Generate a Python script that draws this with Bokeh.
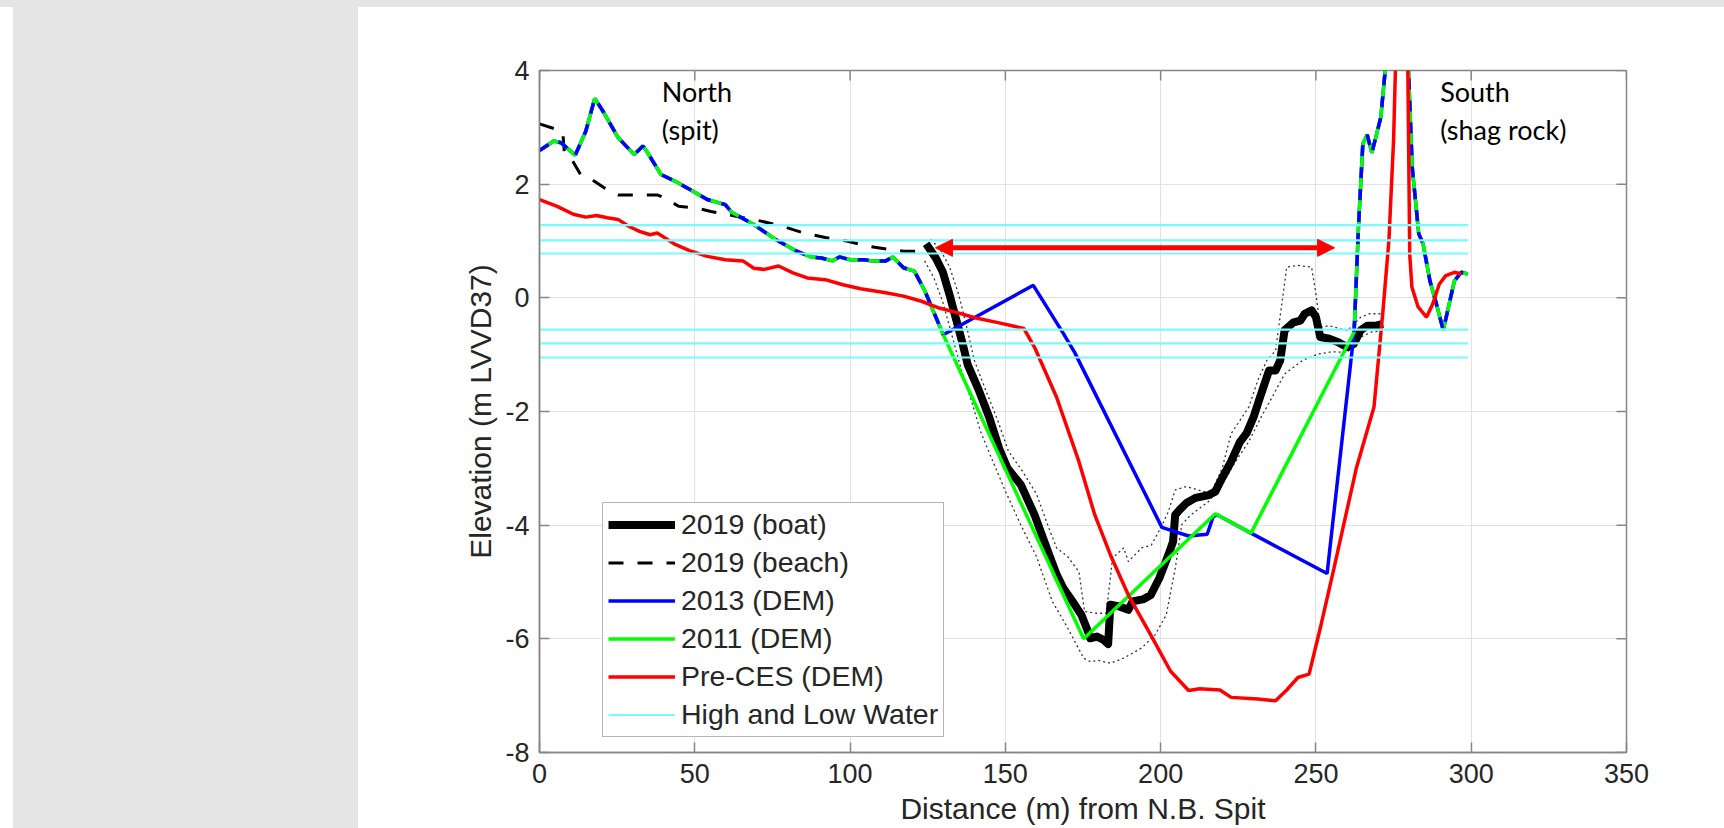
import math
from bokeh.plotting import figure
from bokeh.models import (Range1d, FixedTicker, Legend, LegendItem,
                          Arrow, NormalHead, Div, Spacer)
from bokeh.layouts import row, column
from bokeh.embed import file_html
from bokeh.resources import INLINE
from bokeh.core.properties import value

# ---------------- data ----------------
x_ticks = [0, 50, 100, 150, 200, 250, 300, 350]
y_ticks = [-8, -6, -4, -2, 0, 2, 4]
x_min, x_max = 0, 350
y_min, y_max = -8, 4

# high and low water levels (m LVVD37)
water_levels = [1.28, 1.01, 0.78, -0.56, -0.80, -1.05]
water_x_start = 0
water_x_end = 299

# profile shared by the 2013 and 2011 DEMs (north end)
dem_north_x = [0, 4.6, 6.9, 11.5, 14.9, 17.8, 20.7, 25.3, 30.5, 33.3, 34.5, 39.1,
               43.7, 48.3, 54.0, 59.8, 62.0, 69.0, 75.9, 82.8, 87.4, 90.8, 94.3,
               96.6, 100.0, 104.6, 106.9, 111.5, 113.8, 117.2, 120.7, 124.1, 126.4, 130.0]
dem_north_y = [2.59, 2.76, 2.73, 2.51, 2.93, 3.51, 3.26, 2.82, 2.52, 2.67, 2.58, 2.17,
               2.05, 1.91, 1.73, 1.64, 1.50, 1.29, 1.03, 0.82, 0.72, 0.70, 0.65,
               0.72, 0.67, 0.67, 0.65, 0.65, 0.72, 0.53, 0.47, 0.12, -0.18, -0.65]

# profile shared by the 2013 and 2011 DEMs (south end, shag rock)
dem_south_x = [262.3, 263.7, 265.1, 266.5, 268.0, 269.4, 270.9, 272.3, 276.0, 279.8,
               281.0, 283.1, 284.5, 286.7, 288.8, 291.0, 294.6, 296.8, 298.9]
dem_south_y = [-0.60, 1.24, 2.71, 2.87, 2.55, 2.85, 3.18, 4.00, 6.50, 4.00,
               2.30, 1.13, 0.95, 0.30, -0.11, -0.57, 0.30, 0.45, 0.42]

# channel part of the 2013 DEM
dem2013_x = [159.0, 168.7, 172.3, 200.4, 209.0, 215.0, 216.9, 218.3, 229.1, 253.6]
dem2013_y = [0.22, -0.63, -0.96, -4.04, -4.19, -4.16, -3.85, -3.82, -4.14, -4.85]

# channel part of the 2011 DEM
dem2011_x = [175.2, 217.6, 229.1]
dem2011_y = [-6.00, -3.80, -4.14]

# Pre-CES DEM
pre_x = [0, 5.7, 10.9, 14.9, 18.4, 21.8, 25.3, 28.7, 32.2, 35.6, 37.9, 40.2, 43.7,
         48.3, 54.0, 59.8, 65.5, 69.0, 72.4, 77.0, 81.6, 86.2, 92.0, 97.7, 103.4,
         111.5, 117.2, 123.0, 128.7, 134.5, 140.2, 148.0, 156.0, 159.4, 166.5, 173.5,
         178.8, 183.8, 189.6, 196.8, 203.2, 209.0, 212.6, 219.1, 222.7, 231.3, 237.0,
         240.6, 244.2, 247.8, 251.4, 255.8, 263.0, 268.7, 271.6, 273.5, 275.0, 277.5,
         279.6, 280.2, 280.9, 282.9, 285.6, 287.6, 289.7, 291.8, 294.6, 296.8]
pre_y = [1.73, 1.61, 1.47, 1.42, 1.45, 1.41, 1.38, 1.26, 1.17, 1.11, 1.14, 1.06, 0.94,
         0.83, 0.73, 0.67, 0.65, 0.52, 0.50, 0.56, 0.44, 0.35, 0.32, 0.23, 0.16,
         0.09, 0.03, -0.06, -0.18, -0.26, -0.35, -0.44, -0.54, -0.87, -1.75, -2.85,
         -3.82, -4.52, -5.23, -5.93, -6.57, -6.91, -6.88, -6.90, -7.03, -7.06, -7.09,
         -6.90, -6.68, -6.62, -5.81, -4.76, -3.00, -1.92, -0.22, 1.01, 2.77, 8.00,
         4.00, 0.77, 0.19, -0.16, -0.34, -0.11, 0.24, 0.39, 0.45, 0.42]

# 2019 boat survey
boat_x = [124.5, 127.6, 129.9, 132.2, 134.5, 136.2, 137.9, 141.4, 144.8, 148.0, 150.7,
          155.0, 159.4, 163.7, 166.5, 168.7, 171.6, 174.5, 176.6, 177.3, 179.5, 181.7,
          183.1, 183.8, 186.7, 189.6, 191.0, 194.6, 196.8, 199.6, 202.5, 204.0, 204.7,
          206.1, 208.3, 211.2, 215.5, 217.6, 219.8, 222.7, 225.5, 227.7, 229.9, 232.0,
          234.9, 237.0, 238.5, 239.9, 242.8, 245.0, 246.4, 248.6, 250.0, 251.4, 254.3,
          257.2, 260.1, 262.2, 264.4, 266.5, 269.4, 271.6]
boat_y = [0.95, 0.70, 0.45, 0.02, -0.45, -0.80, -1.18, -1.62, -2.10, -2.65, -3.00,
          -3.29, -3.82, -4.46, -4.87, -5.11, -5.34, -5.58, -5.87, -5.99, -5.96, -6.02,
          -6.09, -5.40, -5.43, -5.49, -5.34, -5.30, -5.23, -4.93, -4.52, -4.29, -3.82,
          -3.73, -3.61, -3.52, -3.47, -3.41, -3.17, -2.88, -2.54, -2.38, -2.10, -1.75,
          -1.28, -1.28, -1.10, -0.57, -0.43, -0.40, -0.28, -0.22, -0.34, -0.69, -0.72,
          -0.78, -0.87, -0.81, -0.57, -0.49, -0.49, -0.46]

# 2019 boat survey, shallow and deep bounds (dotted)
boat_hi_x = [126.0, 129.0, 132.0, 135.0, 137.5, 140.0, 143.5, 147.5, 151.0, 155.5, 160.0,
             164.0, 166.5, 170.0, 173.7, 175.5, 179.5, 182.5, 184.5, 188.1, 189.6, 193.9,
             197.0, 200.0, 202.5, 204.7, 208.3, 214.0, 216.5, 219.8, 222.7, 228.4, 231.3,
             234.2, 237.0, 240.6, 244.2, 248.6, 250.0, 251.4, 254.3, 260.1, 264.4, 267.3,
             271.6]
boat_hi_y = [1.03, 0.85, 0.55, 0.05, -0.50, -1.10, -1.60, -2.15, -2.70, -3.05, -3.45,
             -4.05, -4.40, -4.55, -4.82, -5.52, -5.55, -5.55, -4.58, -4.40, -4.64, -4.40,
             -4.35, -4.05, -3.76, -3.38, -3.32, -3.41, -3.40, -3.00, -2.39, -1.92, -1.45,
             -1.10, -0.93, 0.54, 0.57, 0.54, 0.07, -0.52, -0.49, -0.58, -0.34, -0.28,
             -0.28]
boat_lo_x = [124.0, 127.0, 130.0, 133.0, 136.0, 139.0, 142.0, 145.0, 150.0, 155.0, 160.0,
             165.1, 170.0, 175.2, 177.3, 180.0, 183.8, 188.1, 193.9, 198.2, 201.8, 204.7,
             206.8, 209.7, 215.5, 219.8, 224.1, 228.4, 232.7, 234.2, 239.9, 245.7, 250.7,
             255.0, 260.1, 264.4, 268.0, 271.6]
boat_lo_y = [0.65, 0.35, -0.10, -0.70, -1.30, -1.80, -2.35, -2.75, -3.40, -4.00, -4.55,
             -5.34, -5.80, -6.34, -6.40, -6.38, -6.43, -6.34, -6.16, -5.93, -5.58, -4.76,
             -3.99, -3.82, -3.58, -3.29, -2.88, -2.53, -2.06, -1.92, -1.34, -1.10, -0.99,
             -0.95, -0.96, -0.69, -0.60, -0.58]

# 2019 beach survey
beach_x = [0, 5.7, 7.5, 8.0, 9.8, 13.2, 16.1, 20.7, 25.3, 31.0, 37.9, 40.2, 44.8, 50.6,
           55.2, 62.1, 71.3, 78.2, 85.1, 92.0, 98.9, 105.7, 112.6, 117.2, 123.0, 125.0]
beach_y = [3.06, 2.96, 2.92, 2.55, 2.49, 2.17, 2.11, 1.94, 1.81, 1.81, 1.81, 1.76, 1.61,
           1.58, 1.52, 1.45, 1.35, 1.26, 1.14, 1.06, 1.00, 0.91, 0.85, 0.82, 0.82, 0.85]

# channel width arrow
arrow_x = [127.5, 256.0]
arrow_y = 0.88

# text annotations
north_lines = ["North", "(spit)"]
south_lines = ["South", "(shag rock)"]
north_x = [39.4, 39.4]
south_x = [290.0, 290.0]
label_y = [3.63, 2.96]

x_label = "Distance (m) from N.B. Spit"
y_label = "Elevation (m LVVD37)"
legend_labels = ["2019 (boat)", "2019 (beach)", "2013 (DEM)", "2011 (DEM)",
                 "Pre-CES (DEM)", "High and Low Water"]

# ---------------- styles ----------------
AXC = "#868686"
TXT = "#262626"
GRID = "#e2e2e2"
CYAN = "#7df9f9"
PAGE_GRAY = "#e5e5e5"
FONT = "Liberation Sans"
TICK_LEN = 10

# page chrome: gray strip on top and gray side panel
top_strip = Div(text="", width=1724, height=7, margin=0,
                styles={"background-color": PAGE_GRAY})
panel = Div(text="", width=345, height=821, margin=0,
            styles={"background-color": PAGE_GRAY})
left_gap = Spacer(width=13, height=821, margin=0)

p = figure(width=1366, height=821, output_backend="svg", toolbar_location=None,
           x_range=Range1d(x_min, x_max), y_range=Range1d(y_min, y_max),
           min_border_left=181, min_border_right=98, min_border_top=63, min_border_bottom=76,
           background_fill_color="white", border_fill_color="white", margin=0)
p.outline_line_color = AXC
p.outline_line_width = 1.5

xt = FixedTicker(ticks=x_ticks)
yt = FixedTicker(ticks=y_ticks)
p.xaxis.ticker = xt
p.yaxis.ticker = yt
p.xgrid.ticker = xt
p.ygrid.ticker = yt
p.grid.grid_line_color = GRID
p.grid.grid_line_width = 1
p.yaxis.major_label_overrides = {t: str(t) for t in y_ticks}

for ax in (p.xaxis[0], p.yaxis[0]):
    ax.major_tick_in = TICK_LEN
    ax.major_tick_out = 0
    ax.minor_tick_in = 0
    ax.minor_tick_out = 0
    ax.axis_line_color = AXC
    ax.axis_line_width = 1.5
    ax.major_tick_line_color = AXC
    ax.major_tick_line_width = 1.5
    ax.major_label_text_font = FONT
    ax.major_label_text_font_size = "27px"
    ax.major_label_text_color = TXT
    ax.axis_label_text_font = FONT
    ax.axis_label_text_font_size = "30px"
    ax.axis_label_text_font_style = "normal"
    ax.axis_label_text_color = TXT

p.xaxis.axis_label = x_label
p.yaxis.axis_label = y_label
p.xaxis.major_label_standoff = 11
p.xaxis.axis_label_standoff = 6
p.yaxis.major_label_standoff = 10
p.yaxis.axis_label_standoff = 5

# inward ticks on the top and right edges of the box
p.ray(x=x_ticks, y=[y_max] * len(x_ticks), length=TICK_LEN, length_units="screen",
      angle=-math.pi / 2, line_color=AXC, line_width=1.5)
p.ray(x=[x_max] * len(y_ticks), y=y_ticks, length=TICK_LEN, length_units="screen",
      angle=math.pi, line_color=AXC, line_width=1.5)

# ---------------- glyphs ----------------
p.line(boat_lo_x, boat_lo_y, line_color="#333333", line_width=1.3, line_dash="2 3")
p.line(boat_hi_x, boat_hi_y, line_color="#333333", line_width=1.3, line_dash="2 3")
r_boat = p.line(boat_x, boat_y, line_color="black", line_width=8, line_join="round")
r_beach = p.line(beach_x, beach_y, line_color="black", line_width=3, line_dash="15 14")
r_2013 = p.line(dem_north_x + dem2013_x + dem_south_x, dem_north_y + dem2013_y + dem_south_y,
                line_color="#0000ff", line_width=3.5)
r_2011 = p.line(dem_north_x + dem2011_x + dem_south_x, dem_north_y + dem2011_y + dem_south_y,
                line_color="#00ff00", line_width=3.5)
# where the two DEMs coincide, the 2013 line shows through as alternating dashes
p.line(dem_north_x, dem_north_y, line_color="#0000ff", line_width=3.5, line_dash="11 11")
p.line(dem_south_x, dem_south_y, line_color="#0000ff", line_width=3.5, line_dash="11 11")
r_pre = p.line(pre_x, pre_y, line_color="#ff0000", line_width=3.5)
r_water = p.segment(x0=[water_x_start] * len(water_levels), y0=water_levels,
                    x1=[water_x_end] * len(water_levels), y1=water_levels,
                    line_color=CYAN, line_width=2.2)

p.add_layout(Arrow(start=NormalHead(size=17, fill_color="#ff0000", line_color="#ff0000"),
                   end=NormalHead(size=17, fill_color="#ff0000", line_color="#ff0000"),
                   x_start=arrow_x[0], y_start=arrow_y, x_end=arrow_x[1], y_end=arrow_y,
                   line_color="#ff0000", line_width=5))

for xs, lines in ((north_x, north_lines), (south_x, south_lines)):
    p.text(x=xs, y=label_y, text=lines, text_font=value("Lato"),
           text_font_size=value("27px"), text_color="black",
           text_align="left", text_baseline="alphabetic")

legend = Legend(items=[LegendItem(label=legend_labels[0], renderers=[r_boat]),
                       LegendItem(label=legend_labels[1], renderers=[r_beach]),
                       LegendItem(label=legend_labels[2], renderers=[r_2013]),
                       LegendItem(label=legend_labels[3], renderers=[r_2011]),
                       LegendItem(label=legend_labels[4], renderers=[r_pre]),
                       LegendItem(label=legend_labels[5], renderers=[r_water])],
                location=(63, 15), margin=0, padding=5, spacing=5,
                glyph_width=67, glyph_height=33, label_height=33, label_standoff=6,
                label_text_font=FONT, label_text_font_size="28.5px", label_text_color=TXT,
                border_line_color="#6e6e6e", border_line_width=1.5,
                background_fill_color="white", background_fill_alpha=1.0)
p.add_layout(legend)

layout = column(top_strip, row(left_gap, panel, p, margin=0), margin=0)
open("out.html", "w").write(file_html(layout, INLINE))
